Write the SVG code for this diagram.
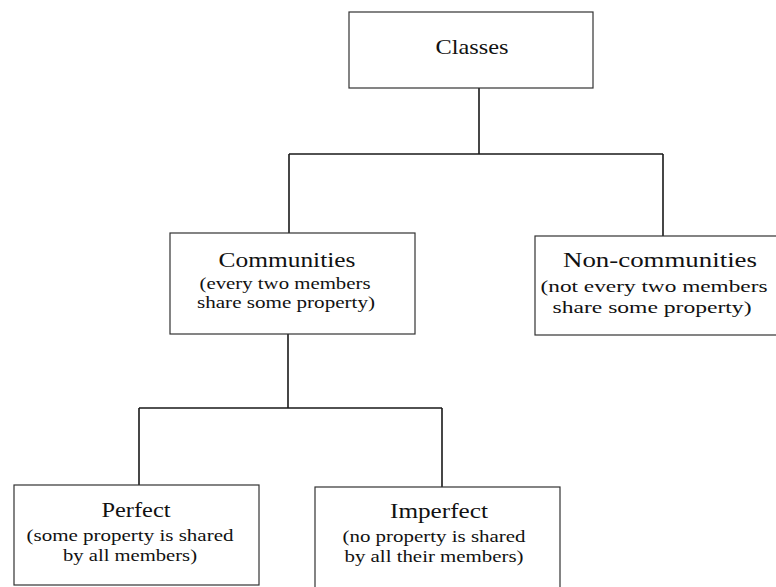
<svg xmlns="http://www.w3.org/2000/svg" width="776" height="587" viewBox="0 0 776 587">
<style>
.box{fill:#fff;stroke:#333;stroke-width:1.2}
.con{fill:none;stroke:#1a1a1a;stroke-width:1.6}
.lbl{font-family:'Liberation Serif','DejaVu Serif',serif;fill:#111;text-anchor:middle}
.t{font-size:21px}
.s{font-size:17px}
</style>
<rect width="776" height="587" fill="#fff"/>
<g id="connectors">
<path class="con" d="M479,88 V154 M289,154 H663 M289,154 V233 M663,154 V236"/>
<path class="con" d="M288,334 V408 M139,408 H442 M139,408 V485 M442,408 V487"/>
</g>
<g id="classes">
<rect class="box" x="349" y="12" width="244" height="76"/>
<text class="lbl t" x="472" y="54" textLength="73" lengthAdjust="spacingAndGlyphs">Classes</text>
</g>
<g id="communities">
<rect class="box" x="170" y="233" width="245" height="101"/>
<text class="lbl t" x="287" y="267" textLength="137" lengthAdjust="spacingAndGlyphs">Communities</text>
<text class="lbl s" x="285" y="289" textLength="171" lengthAdjust="spacingAndGlyphs">(every two members</text>
<text class="lbl s" x="286" y="308" textLength="178" lengthAdjust="spacingAndGlyphs">share some property)</text>
</g>
<g id="non-communities">
<rect class="box" x="535" y="236" width="250" height="99"/>
<text class="lbl t" x="660" y="267" textLength="194" lengthAdjust="spacingAndGlyphs">Non-communities</text>
<text class="lbl s" x="654" y="292" textLength="227" lengthAdjust="spacingAndGlyphs">(not every two members</text>
<text class="lbl s" x="652" y="313" textLength="199" lengthAdjust="spacingAndGlyphs">share some property)</text>
</g>
<g id="perfect">
<rect class="box" x="14" y="485" width="245" height="100"/>
<text class="lbl t" x="136" y="517" textLength="69" lengthAdjust="spacingAndGlyphs">Perfect</text>
<text class="lbl s" x="130" y="541" textLength="207" lengthAdjust="spacingAndGlyphs">(some property is shared</text>
<text class="lbl s" x="130" y="561" textLength="134" lengthAdjust="spacingAndGlyphs">by all members)</text>
</g>
<g id="imperfect">
<rect class="box" x="315" y="487" width="245" height="110"/>
<text class="lbl t" x="439" y="518" textLength="98" lengthAdjust="spacingAndGlyphs">Imperfect</text>
<text class="lbl s" x="434" y="542" textLength="183" lengthAdjust="spacingAndGlyphs">(no property is shared</text>
<text class="lbl s" x="434" y="562" textLength="179" lengthAdjust="spacingAndGlyphs">by all their members)</text>
</g>
</svg>
